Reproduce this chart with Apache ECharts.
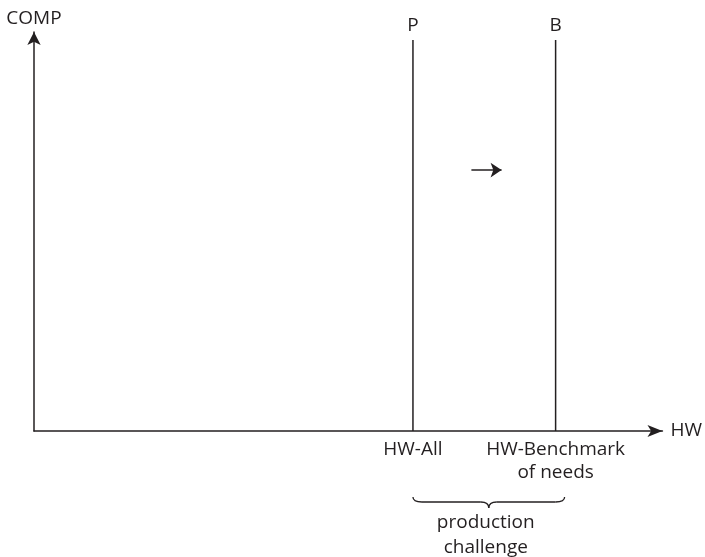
<!DOCTYPE html>
<html><head><meta charset="utf-8">
<script src="https://cdn.jsdelivr.net/npm/echarts@6/dist/echarts.min.js"></script>
<style>html,body{margin:0;padding:0;background:#fff}#c{width:705px;height:557px}</style>
</head><body><div id="c"></div>
<script>
// conceptual positions on the HW axis (0..100) and COMP axis (0..100)
const hwPositions = [60.3, 83.0];           // P (HW-All), B (HW-Benchmark)
const lineNames = ['P', 'B'];
const hwTickLabels = ['HW-All', 'HW-Benchmark\nof needs'];
const lineTop = 98;
const shiftArrowX = [69.6, 74.4];
const shiftArrowY = 65.4;
const braceText = 'production\nchallenge';

const INK = '#231f20';
const FONT = '"Open Sans", "Noto Sans", sans-serif';
const FS = 19;

const chart = echarts.init(document.getElementById('c'));
const labelMap = {};
hwPositions.forEach((v, i) => labelMap[v] = hwTickLabels[i]);

chart.setOption({
  animation: false,
  grid: {left: 34, right: 40, top: 32, bottom: 126},
  xAxis: {
    type: 'value', min: 0, max: 100,
    name: 'HW', nameLocation: 'end', nameGap: 8,
    nameTextStyle: {fontFamily: FONT, fontSize: FS, color: INK},
    axisLine: {show: true, symbol: ['none', 'arrow'], symbolSize: [9, 15],
      lineStyle: {color: INK, width: 1.5}},
    axisTick: {show: false},
    splitLine: {show: false},
    axisLabel: {
      customValues: hwPositions,
      formatter: v => labelMap[v] || '',
      fontFamily: FONT, fontSize: FS, color: INK, lineHeight: 23, margin: 7
    }
  },
  yAxis: {
    type: 'value', min: 0, max: 100,
    name: 'COMP', nameLocation: 'end', nameGap: 4,
    nameTextStyle: {fontFamily: FONT, fontSize: FS, color: INK, align: 'center'},
    axisLine: {show: true, symbol: ['none', 'arrow'], symbolSize: [10, 13],
      lineStyle: {color: INK, width: 1.5}},
    axisTick: {show: false},
    splitLine: {show: false},
    axisLabel: {show: false}
  },
  series: [
    ...hwPositions.map((v, i) => ({
      type: 'line', symbol: 'none', silent: true,
      lineStyle: {color: INK, width: 1.5},
      data: [[v, 0], [v, lineTop]]
    })),
    {
      type: 'scatter', symbolSize: 0, silent: true,
      itemStyle: {opacity: 1, color: INK},
      data: hwPositions.map((v, i) => [v, lineTop, lineNames[i]]),
      label: {show: true, position: 'top', distance: 5, formatter: p => p.data[2],
        fontFamily: FONT, fontSize: FS, color: INK}
    },
    {
      type: 'lines', coordinateSystem: 'cartesian2d', silent: true,
      symbol: ['none', 'arrow'], symbolSize: 11,
      lineStyle: {color: INK, width: 1.5, opacity: 1},
      data: [{coords: [[shiftArrowX[0], shiftArrowY], [shiftArrowX[1], shiftArrowY]]}]
    },
    {
      type: 'custom', silent: true, clip: false,
      data: [[hwPositions[0], hwPositions[1]]],
      encode: {x: [0, 1]},
      renderItem: function (params, api) {
        const a = api.coord([api.value(0), 0]);
        const b = api.coord([api.value(1), 0]);
        const x1 = a[0], x2 = b[0] + 9, y0 = a[1];
        const mid = (x1 + x2) / 2;
        const yA = y0 + 66, yB = y0 + 71, yC = y0 + 77;
        const st = {fill: null, stroke: INK, lineWidth: 1.3};
        return {
          type: 'group',
          children: [
            {type: 'bezierCurve', shape: {x1: x1, y1: yA, cpx1: x1, cpy1: yB, x2: x1 + 9, y2: yB}, style: st},
            {type: 'line', shape: {x1: x1 + 9, y1: yB, x2: mid - 8, y2: yB}, style: st},
            {type: 'bezierCurve', shape: {x1: mid - 8, y1: yB, cpx1: mid, cpy1: yB, x2: mid, y2: yC}, style: st},
            {type: 'bezierCurve', shape: {x1: mid, y1: yC, cpx1: mid, cpy1: yB, x2: mid + 8, y2: yB}, style: st},
            {type: 'line', shape: {x1: mid + 8, y1: yB, x2: x2 - 9, y2: yB}, style: st},
            {type: 'bezierCurve', shape: {x1: x2 - 9, y1: yB, cpx1: x2, cpy1: yB, x2: x2, y2: yA}, style: st},
            {type: 'text', style: {x: mid - 3, y: yC + 2, text: braceText, align: 'center', verticalAlign: 'top',
              fontFamily: FONT, fontSize: FS, lineHeight: 25, fill: INK}}
          ]
        };
      }
    }
  ]
});
</script></body></html>
